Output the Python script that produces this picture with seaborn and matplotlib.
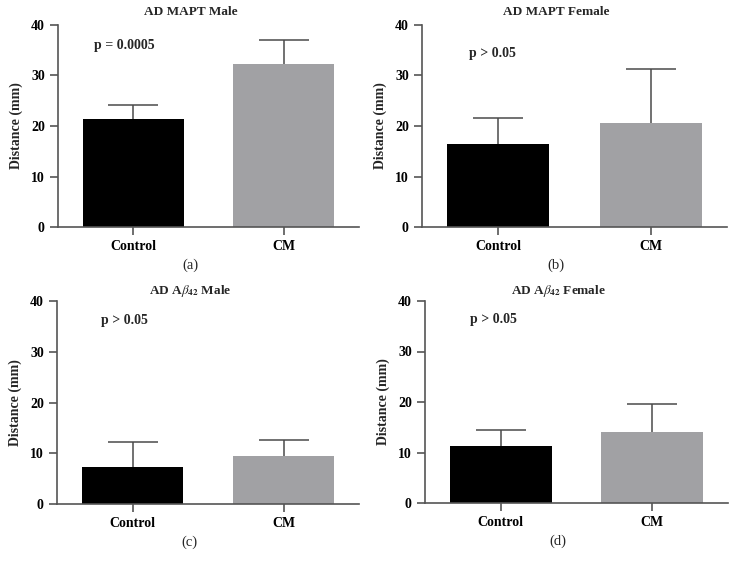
import numpy as np
import pandas as pd
import seaborn as sns
import matplotlib.pyplot as plt

groups = ["Control", "CM"]
titles = ["AD MAPT Male", "AD MAPT Female",
          r"AD A$\beta_{\mathbf{42}}$ Male", r"AD A$\beta_{\mathbf{42}}$ Female"]
panel_tags = ["(a)", "(b)", "(c)", "(d)"]
p_texts = ["p = 0.0005", "p > 0.05", "p > 0.05", "p > 0.05"]
means = [[21.4, 32.3], [16.4, 20.6], [7.2, 9.5], [11.2, 14.0]]
errs = [[2.8, 4.7], [5.1, 10.6], [5.0, 3.2], [3.2, 5.7]]
bar_colors = ["#000000", "#a0a0a5"]

sns.set_style("ticks")
plt.rcParams['font.family'] = ['Liberation Serif', 'DejaVu Serif']
plt.rcParams['mathtext.fontset'] = 'stix'

fig = plt.figure(figsize=(7.36, 5.70), dpi=100)
# axes boxes in pixels: left, right, top, bottom
boxes = [(58, 359, 25, 227), (422, 727, 25, 227),
         (57, 359, 301, 504), (425, 728, 301, 503)]
# where the p-value label sits (x, y in data units)
p_pos = [(-0.26, 36), (-0.19, 34.4), (-0.21, 36.2), (-0.2, 36.3)]
title_y = [1.064, 1.064, 1.05, 1.05]
W, H = 736, 570

for i in range(4):
    l, r, t, b = boxes[i]
    ax = fig.add_axes([l / W, 1 - b / H, (r - l) / W, (b - t) / H])
    df = pd.DataFrame({"group": groups, "value": means[i]})
    sns.barplot(data=df, x="group", y="value", hue="group", palette=bar_colors,
                width=0.67, errorbar=None, legend=False, ax=ax, linewidth=0)
    eb = ax.errorbar(np.arange(len(groups)), means[i], yerr=[[0, 0], errs[i]],
                     fmt="none", ecolor="#4a4a4a", elinewidth=1.1, capsize=18,
                     capthick=1.1)
    eb[1][0].set_visible(False)  # only the upper cap
    ax.set_xlim(-0.5, 1.5)
    ax.set_ylim(0, 40)
    ax.set_yticks([0, 10, 20, 30, 40])
    ax.set_xlabel("")
    ax.set_ylabel("Distance (mm)", fontsize=10, fontweight="bold", labelpad=6)
    sns.despine(ax=ax)
    for s in ["left", "bottom"]:
        ax.spines[s].set_color("#555555")
        ax.spines[s].set_linewidth(1.2)
    ax.tick_params(axis="both", colors="#555555", width=1.2, length=6,
                   labelcolor="black", labelsize=10)
    for lab in ax.get_xticklabels() + ax.get_yticklabels():
        lab.set_fontweight("bold")
    ax.text(0.44, title_y[i], titles[i], transform=ax.transAxes, ha="center",
            va="center", fontsize=9.5, fontweight="bold")
    ax.text(p_pos[i][0], p_pos[i][1], p_texts[i], ha="left", va="center",
            fontsize=10, fontweight="bold")
    ax.text(0.44, -0.155, panel_tags[i], transform=ax.transAxes, ha="center",
            va="top", fontsize=10.5)

fig.savefig("out.png", dpi=100)
